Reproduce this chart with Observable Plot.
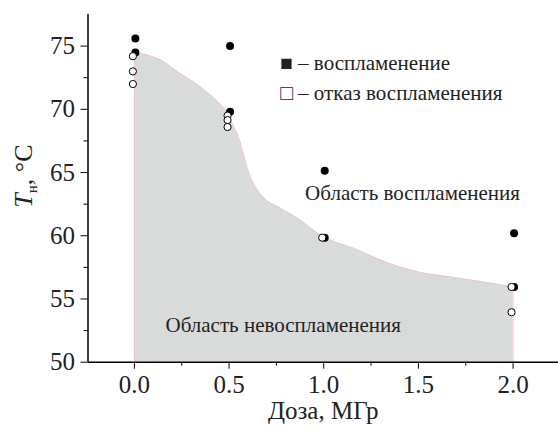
<!DOCTYPE html>
<html>
<head>
<meta charset="utf-8">
<script src="https://cdn.jsdelivr.net/npm/d3@7"></script>
<script src="https://cdn.jsdelivr.net/npm/@observablehq/plot@0.6"></script>
<style>
  body { margin: 0; background: #fff; }
  #chart svg { display: block; }
  #chart svg, #chart svg text, #chart svg g { font-family: "Liberation Serif", "DejaVu Serif", serif !important; }
</style>
</head>
<body>
<div id="chart"></div>
<script>
// Ignition points (filled circles)
const ignitedDose = [0, 0, 0.5, 0.5, 1, 1, 2, 2];
const ignitedTemp = [75.6, 74.5, 75.0, 69.8, 65.15, 59.85, 60.2, 55.95];
// Ignition failure points (open circles)
const failedDose = [0, 0, 0, 0.5, 0.5, 0.5, 1, 2, 2];
const failedTemp = [74.2, 73.0, 72.0, 69.5, 69.15, 68.6, 59.85, 55.95, 53.95];
// Boundary of the non-ignition region
const boundaryDose = [0, 0.15, 0.24, 0.31, 0.38, 0.44, 0.48, 0.52, 0.55, 0.57, 0.6, 0.65, 0.69, 0.77, 0.86, 1.0, 1.16, 1.33, 1.51, 1.69, 1.86, 2.0];
const boundaryTemp = [74.5, 73.8, 72.85, 72.2, 71.4, 70.6, 69.95, 68.75, 67.8, 66.8, 65.2, 63.6, 62.9, 62.2, 61.4, 59.9, 59.0, 57.9, 57.1, 56.7, 56.3, 55.95];
// Axes
const xDomain = [-0.245, 2.24];
const yDomain = [50, 77.5];
const xTicks = [0, 0.5, 1, 1.5, 2];
const xMinorTicks = [0.25, 0.75, 1.25, 1.75];
const yTicks = [50, 55, 60, 65, 70, 75];
const yMinorTicks = [52.5, 57.5, 62.5, 67.5, 72.5];
const xLabel = "Доза, МГр";
// Annotations
const regionLabels = ["Область воспламенения", "Область невоспламенения"];
const regionDose = [1.469, 0.786];
const regionTemp = [63.37, 52.9];
const legendLabels = ["■ – воспламенение", "□ – отказ воспламенения"];
const legendDose = [0.77, 0.77];
const legendTemp = [73.63, 71.26];

const ignited = ignitedDose.map((d, i) => ({dose: d, temp: ignitedTemp[i]}));
const failed = failedDose.map((d, i) => ({dose: d, temp: failedTemp[i]}));
const boundary = boundaryDose.map((d, i) => ({dose: d, temp: boundaryTemp[i]}));
const regions = regionLabels.map((t, i) => ({t, dose: regionDose[i], temp: regionTemp[i]}));
const legend = legendLabels.map((t, i) => ({t, dose: legendDose[i], temp: legendTemp[i]}));
const first = boundary[0], last = boundary[boundary.length - 1];
const edge = "#f0c6c6";
const serif = "Liberation Serif, DejaVu Serif, serif";

const chart = Plot.plot({
  width: 558,
  height: 430,
  marginLeft: 87.5,
  marginRight: 0,
  marginTop: 14,
  marginBottom: 68.3,
  style: {fontFamily: serif, color: "#000", background: "#fff"},
  x: {domain: xDomain},
  y: {domain: yDomain},
  marks: [
    Plot.areaY(boundary, {x: "dose", y1: yDomain[0], y2: "temp", curve: "monotone-x", fill: "#d9dbdb"}),
    Plot.line(boundary, {x: "dose", y: "temp", curve: "monotone-x", stroke: edge, strokeWidth: 1}),
    Plot.ruleX([first], {x: "dose", y1: yDomain[0], y2: "temp", stroke: edge}),
    Plot.ruleX([last], {x: "dose", y1: yDomain[0], y2: "temp", stroke: edge}),
    Plot.axisY({ticks: yTicks, tickSize: 7, tickPadding: 6, fontSize: 25, fontFamily: serif, label: null, tickFormat: d => d, fill: "#222"}),
    Plot.axisY({ticks: yMinorTicks, tickSize: 4, label: null, tickFormat: () => ""}),
    Plot.axisX({ticks: xTicks, tickSize: 7, tickPadding: 6, fontSize: 25, fontFamily: serif, label: null, tickFormat: d3.format(".1f"), fill: "#222"}),
    Plot.axisX({ticks: xMinorTicks, tickSize: 4, label: null, tickFormat: () => ""}),
    Plot.ruleX([xDomain[0]], {stroke: "#000", strokeWidth: 1.5}),
    Plot.ruleY([yDomain[0]], {stroke: "#000", strokeWidth: 1.5}),
    Plot.dot(ignited, {x: "dose", y: "temp", r: 4, fill: "#000", stroke: "none", dx: 1}),
    Plot.dot(failed, {x: "dose", y: "temp", r: 3.6, fill: "#fff", stroke: "#000", strokeWidth: 1, dx: -1.5}),
    Plot.text(regions, {x: "dose", y: "temp", text: "t", fontSize: 21, fontFamily: serif, fill: "#222"}),
    Plot.text(legend, {x: "dose", y: "temp", text: "t", fontSize: 21, fontFamily: serif, textAnchor: "start", fill: "#222"}),
    Plot.text([xLabel], {frameAnchor: "bottom", dy: 57, text: d => d, fontSize: 25, fontFamily: serif, fill: "#222"})
  ]
});

// Y axis title with italic T and subscript
const svg = d3.select(chart);
const yl = svg.append("text")
  .attr("transform", "translate(32,176) rotate(-90)")
  .attr("text-anchor", "middle")
  .attr("font-size", 26)
  .attr("fill", "#222")
  .attr("font-family", serif);
yl.append("tspan").attr("font-style", "italic").text("T");
yl.append("tspan").attr("font-size", 15).attr("dy", 5).text("н");
yl.append("tspan").attr("dy", -5).text(", °C");

document.getElementById("chart").appendChild(chart);
</script>
</body>
</html>
